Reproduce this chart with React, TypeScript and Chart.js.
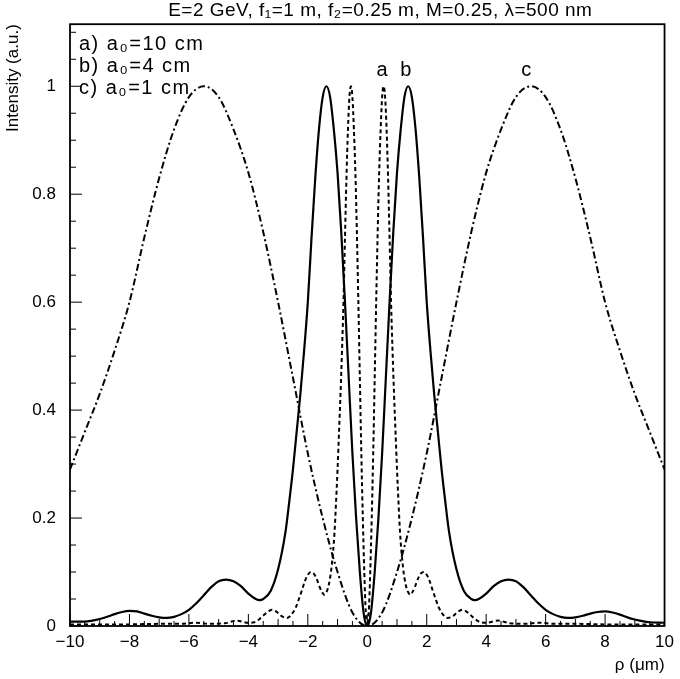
import React, { useEffect, useRef } from "react";
import { Chart, registerables } from "chart.js";

Chart.register(...registerables);

const TITLE = "E=2 GeV, f\u2081=1 m, f\u2082=0.25 m, M=0.25, \u03bb=500 nm";
const LEGEND_LINES = ["a) a\u2080=10 cm", "b) a\u2080=4 cm", "c) a\u2080=1 cm"];
const PEAK_LABELS = ["a", "b", "c"];
const PEAK_LABEL_X = [0.5, 1.3, 5.35];
const X_TICKS = [-10, -8, -6, -4, -2, 0, 2, 4, 6, 8, 10];
const Y_TICKS = [0, 0.2, 0.4, 0.6, 0.8, 1];
const X_LABEL = "\u03c1 (\u03bcm)";
const Y_LABEL = "Intensity (a.u.)";

// curve a : a0 = 10 cm (dashed)
const aRho = [
  -10, -9, -8, -7, -6.3, -5.8, -5.3, -4.8, -4.4, -4.0, -3.8, -3.7, -3.6, -3.5, -3.4, -3.3, -3.2, -3.1, -3.0, -2.9,
  -2.8, -2.7, -2.6, -2.5, -2.4, -2.3, -2.2, -2.1, -2.0, -1.9, -1.8, -1.7, -1.6, -1.5, -1.45, -1.4, -1.3, -1.2, -1.1,
  -1.05, -1.0, -0.95, -0.9, -0.85, -0.8, -0.75, -0.7, -0.65, -0.6, -0.55, -0.5, -0.45, -0.4, -0.35, -0.3, -0.25, -0.2,
  -0.15, -0.1, -0.05, 0,
  0.05, 0.1, 0.15, 0.2, 0.25, 0.3, 0.35, 0.4, 0.45, 0.5, 0.55, 0.6, 0.65, 0.7, 0.75, 0.8, 0.85, 0.9, 0.95, 1.0, 1.05,
  1.1, 1.2, 1.3, 1.4, 1.45, 1.5, 1.6, 1.7, 1.8, 1.9, 2.0, 2.1, 2.2, 2.3, 2.4, 2.5, 2.6, 2.7, 2.8, 2.9, 3.0, 3.1, 3.2,
  3.3, 3.4, 3.5, 3.6, 3.7, 3.8, 4.0, 4.4, 4.8, 5.3, 5.8, 6.3, 7, 8, 9, 10,
];
const aIntensity = [
  0.003, 0.003, 0.003, 0.004, 0.004, 0.006, 0.004, 0.005, 0.01, 0.006, 0.007, 0.01, 0.014, 0.019, 0.024, 0.028,
  0.03, 0.028, 0.024, 0.019, 0.016, 0.015, 0.018, 0.025, 0.035, 0.05, 0.066, 0.083, 0.095, 0.1, 0.097, 0.087,
  0.072, 0.061, 0.058, 0.06, 0.075, 0.11, 0.175, 0.23, 0.29, 0.36, 0.43, 0.51, 0.6, 0.72, 0.83, 0.92, 0.98, 1.0, 0.98,
  0.92, 0.84, 0.73, 0.6, 0.46, 0.32, 0.2, 0.1, 0.025, 0,
  0.025, 0.1, 0.2, 0.32, 0.46, 0.6, 0.73, 0.84, 0.92, 0.98, 1.0, 0.98, 0.92, 0.83, 0.72, 0.6, 0.51, 0.43, 0.36, 0.29,
  0.23, 0.175, 0.11, 0.075, 0.06, 0.058, 0.061, 0.072, 0.087, 0.097, 0.1, 0.095, 0.083, 0.066, 0.05, 0.035, 0.025,
  0.018, 0.015, 0.016, 0.019, 0.024, 0.028, 0.03, 0.028, 0.024, 0.019, 0.014, 0.01, 0.007, 0.006, 0.01, 0.005,
  0.004, 0.006, 0.004, 0.004, 0.003, 0.003, 0.003,
];

// curve b : a0 = 4 cm (solid)
const bRho = [
  -10, -9.5, -9.25, -9.0, -8.75, -8.5, -8.25, -8.0, -7.75, -7.5, -7.25, -7.0, -6.75, -6.5, -6.25, -6.0, -5.75, -5.5,
  -5.25, -5.0, -4.75, -4.5, -4.25, -4.0, -3.75, -3.625, -3.5, -3.25, -3.0, -2.75, -2.625, -2.5, -2.375, -2.25, -2.125,
  -2.0, -1.875, -1.75, -1.625, -1.5, -1.375, -1.25, -1.125, -1.0, -0.875, -0.75, -0.625, -0.5, -0.375, -0.25, -0.125,
  0,
  0.125, 0.25, 0.375, 0.5, 0.625, 0.75, 0.875, 1.0, 1.125, 1.25, 1.375, 1.5, 1.625, 1.75, 1.875, 2.0, 2.125, 2.25,
  2.375, 2.5, 2.625, 2.75, 3.0, 3.25, 3.5, 3.625, 3.75, 4.0, 4.25, 4.5, 4.75, 5.0, 5.25, 5.5, 5.75, 6.0, 6.25, 6.5,
  6.75, 7.0, 7.25, 7.5, 7.75, 8.0, 8.25, 8.5, 8.75, 9.0, 9.25, 9.5, 10,
];
const bIntensity = [
  0.008, 0.008, 0.01, 0.013, 0.017, 0.022, 0.026, 0.028, 0.027, 0.023, 0.019, 0.016, 0.015, 0.017, 0.022, 0.03,
  0.042, 0.057, 0.072, 0.083, 0.086, 0.083, 0.074, 0.06, 0.05, 0.048, 0.05, 0.065, 0.105, 0.175, 0.23, 0.29, 0.36,
  0.43, 0.51, 0.6, 0.72, 0.83, 0.92, 0.98, 1.0, 0.98, 0.92, 0.84, 0.73, 0.6, 0.46, 0.32, 0.2, 0.1, 0.025, 0,
  0.025, 0.1, 0.2, 0.32, 0.46, 0.6, 0.73, 0.84, 0.92, 0.98, 1.0, 0.98, 0.92, 0.83, 0.72, 0.6, 0.51, 0.43, 0.36, 0.29,
  0.23, 0.175, 0.105, 0.065, 0.05, 0.048, 0.05, 0.06, 0.074, 0.083, 0.086, 0.083, 0.072, 0.057, 0.042, 0.03, 0.022,
  0.017, 0.015, 0.016, 0.019, 0.023, 0.026, 0.027, 0.025, 0.021, 0.016, 0.012, 0.009, 0.007, 0.006,
];

// curve c : a0 = 1 cm (dash-dot)
const cRho = [
  -10, -9.5, -9, -8.5, -8, -7.5, -7, -6.5, -6, -5.5, -5, -4.5, -4, -3.5, -3, -2.5, -2, -1.5, -1, -0.5, 0, 0.5, 1, 1.5,
  2, 2.5, 3, 3.5, 4, 4.5, 5, 5.5, 6, 6.5, 7, 7.5, 8, 8.5, 9, 9.5, 10,
];
const cIntensity = [
  0.29, 0.36, 0.43, 0.51, 0.6, 0.72, 0.83, 0.92, 0.98, 1.0, 0.98, 0.92, 0.84, 0.73, 0.6, 0.46, 0.32, 0.2, 0.1, 0.025,
  0, 0.025, 0.1, 0.2, 0.32, 0.46, 0.6, 0.73, 0.84, 0.92, 0.98, 1.0, 0.98, 0.92, 0.83, 0.72, 0.6, 0.51, 0.43, 0.36,
  0.29,
];

const FONT = "'Liberation Sans', Arial, Helvetica, sans-serif";

const toPoints = (xs: number[], ys: number[]) => xs.map((x, i) => ({ x, y: ys[i] }));

const decorPlugin = {
  id: "decor",
  afterDraw(chart: any) {
    const { ctx, chartArea, scales } = chart;
    const xs = scales.x;
    const ys = scales.y;
    ctx.save();
    // frame
    ctx.strokeStyle = "#000";
    ctx.lineWidth = 1.8;
    ctx.setLineDash([]);
    ctx.strokeRect(chartArea.left, chartArea.top, chartArea.right - chartArea.left, chartArea.bottom - chartArea.top);
    // inward ticks on x
    ctx.lineWidth = 1;
    for (let i = 0; i <= 40; i++) {
      const v = -10 + i * 0.5;
      const px = xs.getPixelForValue(v);
      const len = i % 4 === 0 ? 12 : i % 2 === 0 ? 7 : 5;
      ctx.beginPath();
      ctx.moveTo(px, chartArea.bottom);
      ctx.lineTo(px, chartArea.bottom - len);
      ctx.stroke();
    }
    // inward ticks on y
    for (let i = 0; i <= 22; i++) {
      const v = i * 0.05;
      const py = ys.getPixelForValue(v);
      if (py < chartArea.top) break;
      const len = i % 4 === 0 ? 12 : 6;
      ctx.beginPath();
      ctx.moveTo(chartArea.left, py);
      ctx.lineTo(chartArea.left + len, py);
      ctx.stroke();
    }
    // title
    ctx.fillStyle = "#000";
    ctx.font = `19px ${FONT}`;
    ctx.textAlign = "center";
    ctx.textBaseline = "middle";
    (ctx as any).letterSpacing = "0.5px";
    ctx.fillText(TITLE, (chartArea.left + chartArea.right) / 2 + 13, 11);
    // legend text
    ctx.font = `20px ${FONT}`;
    ctx.textAlign = "left";
    (ctx as any).letterSpacing = "1.5px";
    LEGEND_LINES.forEach((t, i) => {
      ctx.fillText(t, chartArea.left + 9, chartArea.top + 20 + i * 22);
    });
    // peak labels
    (ctx as any).letterSpacing = "0px";
    ctx.textAlign = "center";
    PEAK_LABELS.forEach((t, i) => {
      ctx.fillText(t, xs.getPixelForValue(PEAK_LABEL_X[i]), ys.getPixelForValue(1.03));
    });
    ctx.restore();
  },
};

export default function App() {
  const ref = useRef<HTMLCanvasElement | null>(null);
  useEffect(() => {
    if (!ref.current) return;
    const chart = new Chart(ref.current, {
      type: "line",
      data: {
        datasets: [
          {
            label: "a",
            data: toPoints(aRho, aIntensity),
            borderColor: "#000",
            borderWidth: 2,
            borderDash: [4, 3],
            pointRadius: 0,
            cubicInterpolationMode: "monotone",
            fill: false,
          },
          {
            label: "b",
            data: toPoints(bRho, bIntensity),
            borderColor: "#000",
            borderWidth: 2.2,
            pointRadius: 0,
            cubicInterpolationMode: "monotone",
            fill: false,
          },
          {
            label: "c",
            data: toPoints(cRho, cIntensity),
            borderColor: "#000",
            borderWidth: 2,
            borderDash: [7, 3, 2, 3],
            pointRadius: 0,
            cubicInterpolationMode: "monotone",
            fill: false,
          },
        ],
      },
      options: {
        animation: false,
        responsive: false,
        devicePixelRatio: 1,
        layout: { padding: { top: 23, right: 12, left: 0, bottom: 0 } },
        plugins: { legend: { display: false }, tooltip: { enabled: false }, title: { display: false } },
        scales: {
          x: {
            type: "linear",
            min: -10,
            max: 10,
            afterBuildTicks: (s: any) => {
              s.ticks = X_TICKS.map((v) => ({ value: v }));
            },
            afterFit: (s: any) => {
              s.height = 53;
            },
            grid: { display: false, drawTicks: false },
            border: { display: false },
            ticks: {
              color: "#000",
              font: { family: FONT, size: 17 },
              padding: 6,
              maxRotation: 0,
              autoSkip: false,
              callback: (v: any) => (v < 0 ? "\u2212" + Math.abs(v) : String(v)),
            },
            title: {
              display: true,
              text: X_LABEL,
              align: "end",
              color: "#000",
              font: { family: FONT, size: 17 },
              padding: { top: 0, bottom: 3 },
            },
          },
          y: {
            type: "linear",
            min: 0,
            max: 1.115,
            afterBuildTicks: (s: any) => {
              s.ticks = Y_TICKS.map((v) => ({ value: v }));
            },
            afterFit: (s: any) => {
              s.width = 70;
            },
            grid: { display: false, drawTicks: false },
            border: { display: false },
            ticks: {
              color: "#000",
              font: { family: FONT, size: 17 },
              padding: 14,
              autoSkip: false,
              callback: (v: any) => (v === 0 ? "0" : v === 1 ? "1" : Number(v).toFixed(1)),
            },
            title: {
              display: true,
              text: Y_LABEL,
              align: "end",
              color: "#000",
              font: { family: FONT, size: 17 },
              padding: { top: 3, bottom: 0 },
            },
          },
        },
      },
      plugins: [decorPlugin],
    } as any);
    return () => chart.destroy();
  }, []);
  return (
    <div style={{ position: "absolute", left: 0, top: 0, width: 680, height: 679, background: "#fff" }}>
      <canvas ref={ref} width={680} height={679} />
    </div>
  );
}
